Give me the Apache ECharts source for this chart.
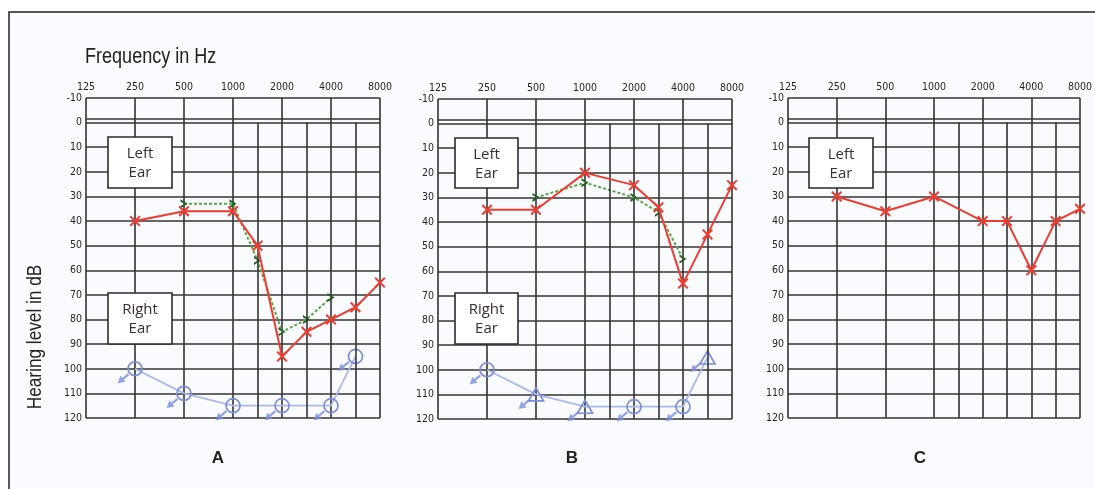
<!DOCTYPE html>
<html>
<head>
<meta charset="utf-8">
<script src="https://cdn.jsdelivr.net/npm/echarts@6/dist/echarts.min.js"></script>
<style>
html,body{margin:0;padding:0;background:#ffffff;}
#chart{width:1095px;height:489px;}
</style>
</head>
<body>
<div id="chart"></div>
<script>
// ---------- data ----------
// x categories at half-octave steps (only octaves are labelled)
const freqs = ['125','180','250','375','500','750','1000','1500','2000','3000','4000','6000','8000'];
const octaveFreqs = ['125','250','500','1000','2000','4000','8000'];
const interOctave = ['1500','3000','6000'];
const yMin = -10, yMax = 120, yStep = 10;

// Panel A
const aAirFreq   = ['250','500','1000','1500','2000','3000','4000','6000','8000'];
const aAir       = [40, 36, 36, 50, 95, 85, 80, 75, 65];
const aBoneFreq  = ['500','1000','1500','2000','3000','4000'];
const aBone      = [33, 33, 56, 85, 80, 71];
const aRightFreq = ['250','500','1000','2000','4000','6000'];
const aRight     = [100, 110, 115, 115, 115, 95];
const aRightSym  = ['circle','circle','circle','circle','circle','circle'];

// Panel B
const bAirFreq   = ['250','500','1000','2000','3000','4000','6000','8000'];
const bAir       = [35, 35, 20, 25, 34, 65, 45, 25];
const bBoneFreq  = ['500','1000','2000','3000','4000'];
const bBone      = [30, 24, 30, 36, 55];
const bRightFreq = ['250','500','1000','2000','4000','6000'];
const bRight     = [100, 110, 115, 115, 115, 95];
const bRightSym  = ['circle','triangle','triangle','circle','circle','triangle'];

// Panel C
const cAirFreq   = ['250','500','1000','2000','3000','4000','6000','8000'];
const cAir       = [30, 36, 30, 40, 40, 60, 40, 35];

const panelLetters = ['A','B','C'];

// ---------- styling ----------
const GRID_COLOR = '#343434';
const RED = '#ef3b2d';
const GREEN_LINE = '#58a844';
const GREEN_MARK = '#1f5a1f';
const BLUE_LINE = '#a9b9ea';
const BLUE_MARK = '#7b8fdc';
const LABEL_FONT = "'DejaVu Sans Condensed','DejaVu Sans',sans-serif";
const TITLE_FONT = "'Liberation Sans',Arial,sans-serif";

const X_SYMBOL = 'path://M0,1.3 L1.3,0 L5,3.7 L8.7,0 L10,1.3 L6.3,5 L10,8.7 L8.7,10 L5,6.3 L1.3,10 L0,8.7 L3.7,5 Z';
const CHEVRON = 'path://M0,0 L10,5 L0,10 L0,7.4 L6.6,5 L0,2.6 Z';
const ARROW = 'path://M3.6,0 L6.4,0 L6.4,10 L10,10 L5,20 L0,10 L3.6,10 Z';

const grids = [
  {left: 86, top: 98, width: 294, height: 320},
  {left: 438, top: 99, width: 294, height: 320},
  {left: 788, top: 98, width: 293, height: 320}
];

const isOctave = (idx) => octaveFreqs.indexOf(freqs[idx]) >= 0;

const xAxes = grids.map((g, i) => ({
  gridIndex: i, type: 'category', position: 'top', data: freqs, boundaryGap: false,
  axisLine: {show: false}, axisTick: {show: false},
  axisLabel: {interval: (idx) => isOctave(idx), margin: 5, fontSize: 10.5, color: '#262626',
              fontFamily: LABEL_FONT, hideOverlap: false},
  splitLine: {show: true, interval: (idx) => isOctave(idx), lineStyle: {color: GRID_COLOR, width: 1.6}}
}));

const yAxes = grids.map((g, i) => ({
  gridIndex: i, type: 'value', inverse: true, min: yMin, max: yMax, interval: yStep,
  axisLine: {show: false}, axisTick: {show: false},
  axisLabel: {margin: 4, fontSize: 10.5, color: '#262626', fontFamily: LABEL_FONT},
  splitLine: {show: true, lineStyle: {color: GRID_COLOR, width: 1.6}}
}));

const pairs = (fs, vs) => fs.map((f, k) => [f, vs[k]]);

const series = [];
grids.forEach((g, i) => {
  // grid helper lines: double line at 0 dB and half-octave verticals
  const ml = [{yAxis: -1.4}];
  interOctave.forEach(f => ml.push([{coord: [f, 0]}, {coord: [f, yMax]}]));
  series.push({
    type: 'scatter', xAxisIndex: i, yAxisIndex: i, data: [], z: 1, silent: true,
    markLine: {silent: true, symbol: ['none','none'], label: {show: false}, animation: false,
               lineStyle: {color: GRID_COLOR, width: 1.6, type: 'solid'}, data: ml}
  });
});

function airSeries(i, fs, vs) {
  return {type: 'line', xAxisIndex: i, yAxisIndex: i, data: pairs(fs, vs), z: 5,
    symbol: X_SYMBOL, symbolSize: 11, itemStyle: {color: RED},
    lineStyle: {color: RED, width: 2}, animation: false};
}
function boneSeries(i, fs, vs) {
  return {type: 'line', xAxisIndex: i, yAxisIndex: i, data: pairs(fs, vs), z: 4,
    symbol: CHEVRON, symbolSize: [7, 9], itemStyle: {color: GREEN_MARK},
    lineStyle: {color: GREEN_LINE, width: 2, type: [3, 2]}, animation: false};
}
function rightSeries(i, fs, vs, syms) {
  const d = fs.map((f, k) => ({value: [f, vs[k]], symbol: syms[k],
     symbolSize: syms[k] === 'triangle' ? [15, 13] : 14}));
  return [
    {type: 'line', xAxisIndex: i, yAxisIndex: i, data: d, z: 3,
     itemStyle: {color: 'rgba(0,0,0,0)', borderColor: BLUE_MARK, borderWidth: 1.7},
     lineStyle: {color: BLUE_LINE, width: 1.8}, animation: false},
    {type: 'scatter', xAxisIndex: i, yAxisIndex: i, data: pairs(fs, vs), z: 3,
     symbol: ARROW, symbolSize: [8, 14], symbolOffset: [-12, 10], symbolRotate: -50,
     itemStyle: {color: BLUE_MARK}, animation: false}
  ];
}

series.push(boneSeries(0, aBoneFreq, aBone));
series.push(airSeries(0, aAirFreq, aAir));
series.push(...rightSeries(0, aRightFreq, aRight, aRightSym));
series.push(boneSeries(1, bBoneFreq, bBone));
series.push(airSeries(1, bAirFreq, bAir));
series.push(...rightSeries(1, bRightFreq, bRight, bRightSym));
series.push(airSeries(2, cAirFreq, cAir));

// ---------- annotations ----------
function earBox(x, y, w, h, txt) {
  return {type: 'group', z: 100, children: [
    {type: 'rect', z: 100, shape: {x: x, y: y, width: w, height: h},
     style: {fill: '#ffffff', stroke: '#2b2b2b', lineWidth: 1.6}},
    {type: 'text', z: 101, x: x + w / 2, y: y + h / 2 + 1,
     style: {text: txt, fill: '#3a2e2e', font: "15px 'Open Sans', 'Liberation Sans', sans-serif",
             align: 'center', verticalAlign: 'middle', lineHeight: 19}}
  ]};
}

const letterPos = [218, 572, 920];
const graphic = [
  {type: 'rect', z: -10, silent: true, shape: {x: 9, y: 12, width: 1200, height: 600},
   style: {fill: '#fafbfe', stroke: '#222222', lineWidth: 1.5}},
  {type: 'text', x: 85, y: 57, scaleX: 0.82, z: 100, style: {text: 'Frequency in Hz', fill: '#222',
   font: "22px " + TITLE_FONT, verticalAlign: 'middle'}},
  {type: 'text', x: 35, y: 337, rotation: Math.PI / 2, scaleX: 0.82, z: 100,
   style: {text: 'Hearing level in dB', fill: '#222',
   font: "21px " + TITLE_FONT, align: 'center', verticalAlign: 'middle'}},
  earBox(108, 137, 64, 51, 'Left\nEar'),
  earBox(108, 293, 64, 51, 'Right\nEar'),
  earBox(455, 138, 63, 50, 'Left\nEar'),
  earBox(455, 293, 63, 51, 'Right\nEar'),
  earBox(809, 138, 64, 50, 'Left\nEar')
];
panelLetters.forEach((L, k) => graphic.push({type: 'text', x: letterPos[k], y: 458, z: 100,
  style: {text: L, fill: '#222', font: "bold 17px 'Liberation Sans', Arial, sans-serif",
          align: 'center', verticalAlign: 'middle'}}));

const chart = echarts.init(document.getElementById('chart'), null, {renderer: 'canvas'});
chart.setOption({
  animation: false,
  backgroundColor: '#ffffff',
  grid: grids,
  xAxis: xAxes,
  yAxis: yAxes,
  series: series,
  graphic: graphic
});
</script>
</body>
</html>
